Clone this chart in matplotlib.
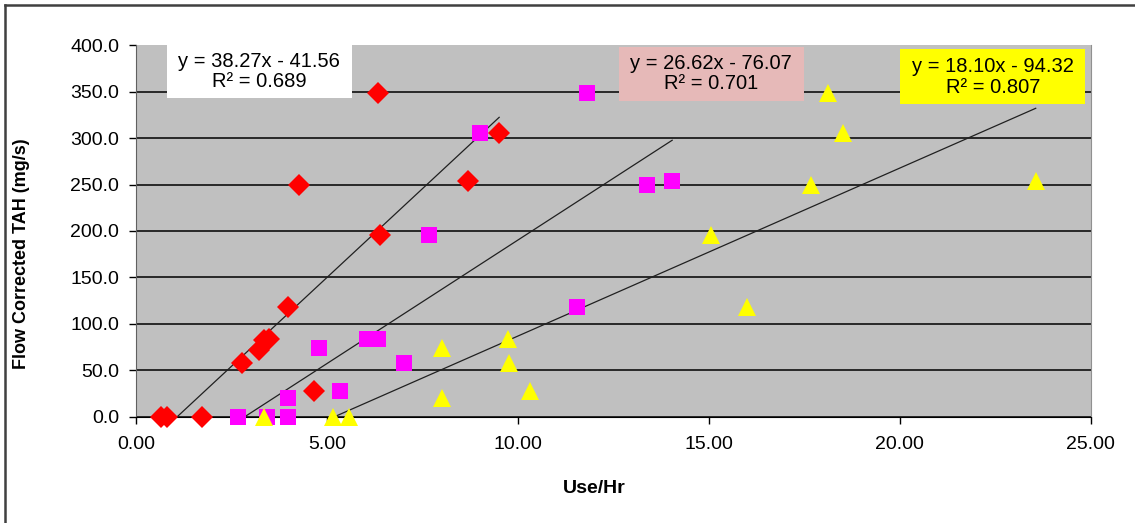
import numpy as np
import matplotlib
matplotlib.use("Agg")
import matplotlib.pyplot as plt
from matplotlib.patches import Rectangle
from matplotlib.lines import Line2D

plt.rcParams['font.family'] = ['Liberation Sans', 'DejaVu Sans']

# datos
red_x = [0.66, 0.82, 1.74, 2.77, 3.21, 3.36, 3.47, 3.99, 4.28, 4.65, 6.33, 6.40, 8.70, 9.51]
red_y = [0, 0, 0, 58, 72, 82, 84, 118, 249, 28, 349, 196, 254, 305]

mag_x = [2.68, 3.44, 3.99, 3.99, 4.80, 5.33, 6.04, 6.35, 7.01, 7.68, 9.01, 11.54, 11.81, 13.37, 14.04]
mag_y = [0, 0, 20, 0, 74, 28, 84, 84, 58, 196, 305, 118, 349, 249, 254]

yel_x = [3.34, 5.17, 5.59, 8.01, 8.01, 9.75, 9.77, 10.33, 15.07, 15.99, 17.68, 18.13, 18.51, 23.56]
yel_y = [0, 0, 0, 74, 20, 84, 58, 28, 196, 118, 249, 349, 305, 254]

red_fit = (38.27, -41.56, 0.689)
mag_fit = (26.62, -76.07, 0.701)
yel_fit = (18.10, -94.32, 0.807)

x_ticks = [0, 5, 10, 15, 20, 25]
y_ticks = [0, 50, 100, 150, 200, 250, 300, 350, 400]

fig = plt.figure(figsize=(11.35, 5.23), dpi=100)
W, H = 1135, 523
ax = fig.add_axes([136 / W, 1 - 416.5 / H, (1090.7 - 136) / W, (416.5 - 45.3) / H])
ax.set_facecolor('#C0C0C0')

# lineas de tendencia
for xs, fit in [(red_x, red_fit), (mag_x, mag_fit), (yel_x, yel_fit)]:
    xx = np.array([min(xs), max(xs)])
    ax.plot(xx, fit[0] * xx + fit[1], color='#202020', lw=0.9, zorder=3)

ax.plot(red_x, red_y, 'D', color='#FF0000', ms=11.5, mew=0, zorder=4, clip_on=False)
ax.plot(mag_x, mag_y, 's', color='#FF00FF', ms=11.3, mew=0, zorder=4, clip_on=False)
ax.plot(yel_x, yel_y, '^', color='#FFFF00', ms=12.5, mew=0, zorder=4, clip_on=False)

ax.set_xlim(0, 25)
ax.set_ylim(0, 400)
ax.set_xticks(x_ticks)
ax.set_yticks(y_ticks)
ax.set_xticklabels(['%.2f' % v for v in x_ticks])
ax.set_yticklabels(['%.1f' % v for v in y_ticks])
ax.tick_params(axis='both', labelsize=14, length=5, width=1, color='black', direction='out')
ax.tick_params(axis='y', pad=7)
ax.tick_params(axis='x', pad=9)

ax.yaxis.grid(True, color='black', lw=1.1)
ax.set_axisbelow(True)
ax.get_ygridlines()[-1].set_visible(False)
ax.spines['bottom'].set_color('black')
ax.spines['left'].set_color('#606060')
ax.spines['top'].set_visible(False)
ax.spines['right'].set_color('#909090')
ax.spines['right'].set_linewidth(0.8)

ax.set_xlabel('Use/Hr', fontsize=14, fontweight='bold')
ax.xaxis.set_label_coords((594 - 136) / (1090.7 - 136), -(480 - 416.5) / (416.5 - 45.3))
ax.set_ylabel('Flow Corrected TAH (mg/s)', fontsize=13, fontweight='bold')
ax.yaxis.set_label_coords(-(136 - 30) / (1090.7 - 136), (416.5 - 254) / (416.5 - 45.3))

# cajas de ecuaciones
boxes = [
    (red_fit, 'white', 0.032, 0.857, 0.194, 0.144),
    (mag_fit, '#E6B9B8', 0.5056, 0.851, 0.194, 0.145),
    (yel_fit, '#FFFF00', 0.8006, 0.841, 0.1936, 0.148),
]
for fit, fc, bx, by, bw, bh in boxes:
    ax.add_patch(Rectangle((bx, by), bw, bh, transform=ax.transAxes,
                           facecolor=fc, edgecolor='none', zorder=5, clip_on=False))
    txt = 'y = %.2fx - %.2f\nR² = %.3f' % (fit[0], -fit[1], fit[2])
    ax.text(bx + bw / 2, by + bh / 2, txt, transform=ax.transAxes, ha='center', va='center',
            fontsize=14.5, linespacing=1.1, zorder=6)

# borde exterior (solo izquierda y arriba visibles)
fig.add_artist(Line2D([4.5 / W, 4.5 / W], [0, 1 - 5 / H], transform=fig.transFigure,
                      color='#404040', lw=1.8))
fig.add_artist(Line2D([4.5 / W, 1], [1 - 5 / H, 1 - 5 / H], transform=fig.transFigure,
                      color='#404040', lw=1.8))

fig.savefig('out.png', dpi=100)
